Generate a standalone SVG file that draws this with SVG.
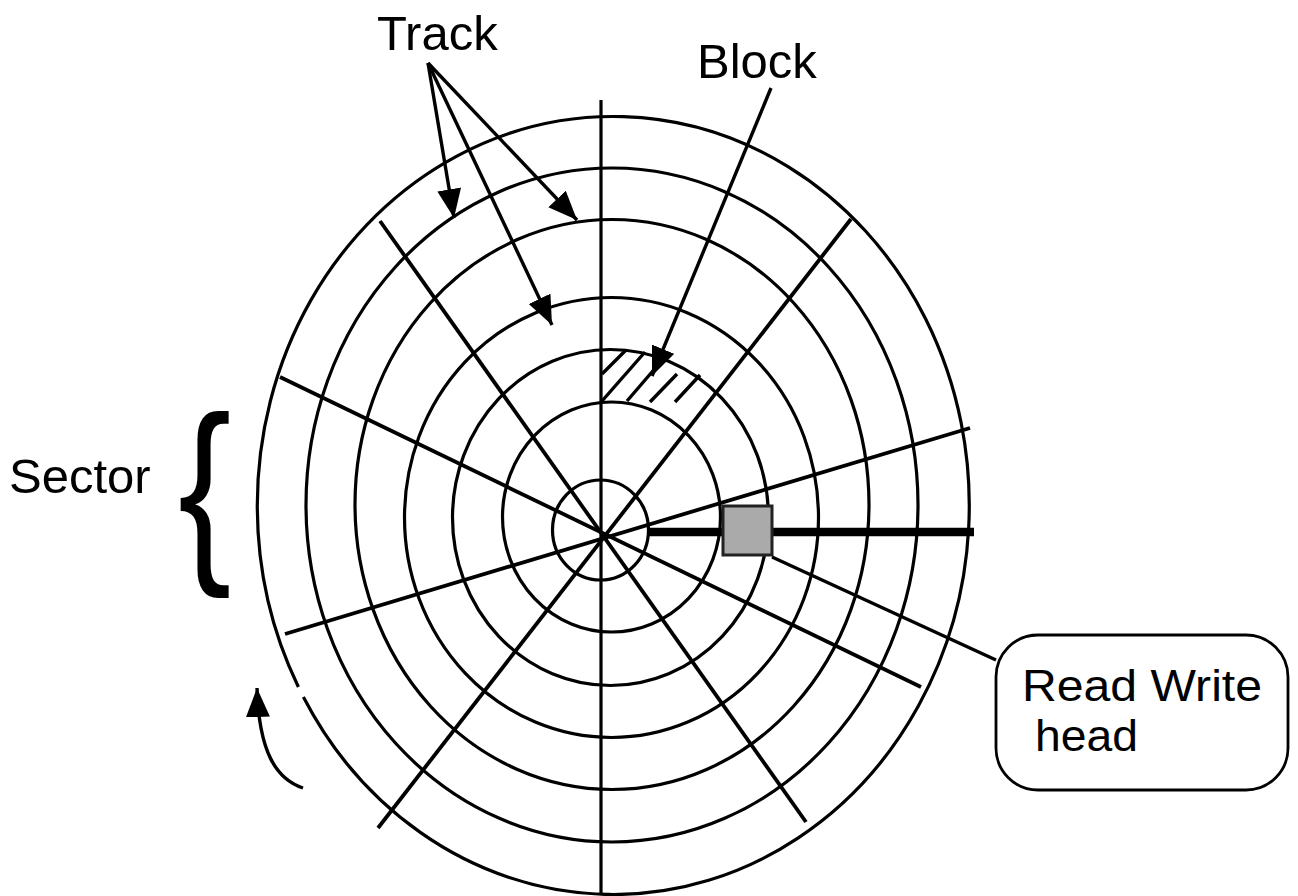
<svg xmlns="http://www.w3.org/2000/svg" width="1298" height="896" viewBox="0 0 1298 896">
<defs>
<style>
.ring{fill:none;stroke:#000;stroke-width:3.2}
.rad{stroke:#000;stroke-width:3.8;fill:none}
.conn{stroke:#000;stroke-width:3.4;fill:none}
.lbl{font-family:"Liberation Sans",Arial,Helvetica,sans-serif;font-size:49px;fill:#000}
.rw{font-family:"Liberation Sans",Arial,Helvetica,sans-serif;font-size:44px;fill:#000}
</style>
<marker id="ah" markerUnits="userSpaceOnUse" markerWidth="32" markerHeight="26" refX="29" refY="12" orient="auto">
<path d="M0,0 L29,12 L0,24 Z" fill="#000"/>
</marker>
</defs>
<rect width="1298" height="896" fill="#fff"/>
<g id="disk">
<ellipse class="ring" cx="600.5" cy="530" rx="48" ry="50"/>
<ellipse class="ring" cx="611.5" cy="517" rx="109" ry="115"/>
<ellipse class="ring" cx="610.5" cy="517.5" rx="158" ry="168"/>
<ellipse class="ring" cx="611.5" cy="517.5" rx="207" ry="220"/>
<ellipse class="ring" cx="612" cy="504.5" rx="257" ry="285"/>
<ellipse class="ring" cx="612" cy="505" rx="306" ry="337"/>
<path class="ring" d="M303.4,697 A356,389 0 1 0 298.4,687"/>
</g>
<g id="sectors">
<line class="rad" x1="601" y1="100" x2="601" y2="893" style="stroke-width:3.2"/>
<line class="rad" x1="380" y1="221" x2="806" y2="822"/>
<line class="rad" x1="851" y1="219" x2="378" y2="828"/>
<line class="rad" x1="280" y1="377" x2="921" y2="687"/>
<line class="rad" x1="970" y1="428" x2="285" y2="634"/>
</g>
<g id="block">
<line class="conn" x1="602" y1="374" x2="626" y2="350"/>
<line class="conn" x1="602" y1="401" x2="645" y2="352"/>
<line class="conn" x1="627" y1="401" x2="664" y2="358"/>
<line class="conn" x1="650" y1="402" x2="677" y2="374"/>
<line class="conn" x1="675" y1="402" x2="700" y2="375"/>
</g>
<g id="head">
<line x1="648" y1="532" x2="974" y2="532" stroke="#000" stroke-width="8.5"/>
<rect x="723" y="506" width="49" height="49" fill="#aaa" stroke="#222" stroke-width="3"/>
</g>
<g id="connectors">
<line class="conn" x1="428" y1="63" x2="454" y2="218" marker-end="url(#ah)"/>
<line class="conn" x1="428" y1="63" x2="577" y2="220" marker-end="url(#ah)"/>
<line class="conn" x1="428" y1="63" x2="552" y2="325" marker-end="url(#ah)"/>
<line class="conn" x1="771" y1="88" x2="652" y2="376" marker-end="url(#ah)"/>
<line class="conn" x1="772" y1="557" x2="996" y2="660"/>
<path class="conn" d="M303,788 C276,779 259,752 257,688" marker-end="url(#ah)"/>
</g>
<g id="rw-label">
<rect x="996" y="635" width="292" height="155" rx="42" ry="42" fill="#fff" stroke="#000" stroke-width="2.8"/>
<text class="rw" x="1022" y="701" textLength="240" lengthAdjust="spacingAndGlyphs">Read Write</text>
<text class="rw" x="1035" y="751" textLength="103" lengthAdjust="spacingAndGlyphs">head</text>
</g>
<g id="labels">
<text class="lbl" x="377" y="50">Track</text>
<text class="lbl" x="697" y="78">Block</text>
<text class="lbl" x="9" y="493">Sector</text>
<text class="lbl" transform="translate(178,556) scale(0.8,1)" style="font-size:200px">{</text>
</g>
</svg>
